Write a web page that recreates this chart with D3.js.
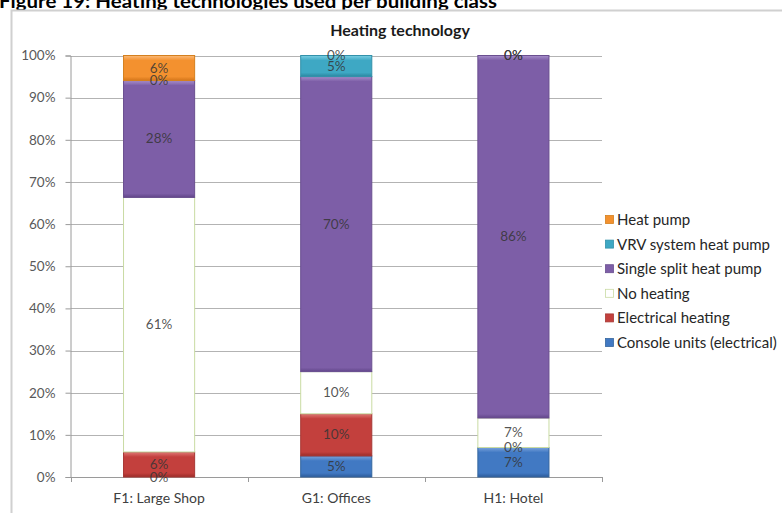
<!DOCTYPE html>
<html>
<head>
<meta charset="utf-8">
<script src="https://cdn.jsdelivr.net/npm/d3@7/dist/d3.min.js"></script>
<style>
  html, body { margin: 0; padding: 0; background: #fff; }
  svg { display: block; }
  text { font-family: Lato, "Open Sans", "Noto Sans", sans-serif; }
</style>
</head>
<body>
<svg id="chart" width="782" height="513"></svg>
<script>
// Building classes on the x axis
const categories = ["F1: Large Shop", "G1: Offices", "H1: Hotel"];

// Share of each heating technology per building class (%), bottom to top of the stack
const seriesNames = ["Console units (electrical)", "Electrical heating", "No heating",
                     "Single split heat pump", "VRV system heat pump", "Heat pump"];
const consoleUnits   = [0, 5, 7];
const electrical     = [6, 10, 0];
const noHeating      = [61, 10, 7];
const singleSplit    = [28, 70, 86];
const vrvSystem      = [0, 5, 0];
const heatPump       = [6, 0, 0];

const yTickLabels = ["0%", "10%", "20%", "30%", "40%", "50%", "60%", "70%", "80%", "90%", "100%"];

const seriesValues = [consoleUnits, electrical, noHeating, singleSplit, vrvSystem, heatPump];

// Fill styles per series: base, top highlight, bottom shade, outline
const palette = {
  "Console units (electrical)": { base: "#4179c3", hi: "#7aa3dc", lo: "#2c5b9a", line: "#36679f" },
  "Electrical heating":         { base: "#c3403d", hi: "#e07a77", lo: "#9a2c29", line: "#a73835" },
  "No heating":                 { base: "#ffffff", hi: "#ffffff", lo: "#ffffff", line: "#c9dba3" },
  "Single split heat pump":     { base: "#7d5ea7", hi: "#a78fcb", lo: "#62468a", line: "#6a4f90" },
  "VRV system heat pump":       { base: "#3ea8c4", hi: "#7bcfe3", lo: "#2a869f", line: "#3391aa" },
  "Heat pump":                  { base: "#f3912f", hi: "#fbbb7a", lo: "#d4761a", line: "#d4801f" }
};

const table = categories.map((c, i) => {
  const row = { category: c };
  seriesNames.forEach((s, j) => { row[s] = seriesValues[j][i]; });
  return row;
});

const svg = d3.select("#chart");

// Page heading above the chart frame
svg.append("text")
  .attr("x", -1).attr("y", 8)
  .attr("font-size", 19).attr("font-weight", "bold").attr("fill", "#000")
  .attr("textLength", 498).attr("lengthAdjust", "spacingAndGlyphs")
  .text("Figure 19: Heating technologies used per building class");

// Chart frame
svg.append("rect")
  .attr("x", 11.5).attr("y", 10.5).attr("width", 800).attr("height", 540)
  .attr("fill", "#fff").attr("stroke", "#d0d0d0").attr("stroke-width", 2);

svg.append("text")
  .attr("x", 400).attr("y", 36)
  .attr("text-anchor", "middle").attr("font-size", 16).attr("font-weight", "bold")
  .attr("fill", "#1a1a1a")
  .text("Heating technology");

const margin = { left: 70.5, right: 602, top: 55.5, bottom: 477 };

const x = d3.scaleBand().domain(categories).range([margin.left, margin.right])
  .paddingInner(0.593).paddingOuter(0.2965);
const xTicks = d3.scaleBand().domain(categories).range([margin.left, margin.right]);
const y = d3.scaleLinear().domain([0, 1]).range([margin.bottom, margin.top]);

// Soft edge gradients used for the bevel strips
const defs = svg.append("defs");
seriesNames.forEach((s, j) => {
  const p = palette[s];
  const top = defs.append("linearGradient").attr("id", "hi" + j)
    .attr("x1", 0).attr("y1", 0).attr("x2", 0).attr("y2", 1);
  top.append("stop").attr("offset", "0%").attr("stop-color", p.hi).attr("stop-opacity", 1);
  top.append("stop").attr("offset", "100%").attr("stop-color", p.hi).attr("stop-opacity", 0);
  const bot = defs.append("linearGradient").attr("id", "lo" + j)
    .attr("x1", 0).attr("y1", 0).attr("x2", 0).attr("y2", 1);
  bot.append("stop").attr("offset", "0%").attr("stop-color", p.lo).attr("stop-opacity", 0);
  bot.append("stop").attr("offset", "100%").attr("stop-color", p.lo).attr("stop-opacity", 1);
});

// Horizontal gridlines
const yTickVals = yTickLabels.map((_, i) => i / 10);
svg.append("g")
  .selectAll("line").data(yTickVals.slice(1)).join("line")
  .attr("x1", margin.left).attr("x2", margin.right)
  .attr("y1", d => Math.round(y(d)) + 0.5).attr("y2", d => Math.round(y(d)) + 0.5)
  .attr("stroke", "#b3b3b3").attr("stroke-width", 1);

// Y axis
const yAxis = d3.axisLeft(y).tickValues(yTickVals)
  .tickFormat((d, i) => yTickLabels[i]).tickSize(5).tickPadding(10);
const gy = svg.append("g").attr("transform", `translate(${margin.left},0)`).call(yAxis);
gy.select(".domain").attr("stroke", "#9a9a9a");
gy.selectAll(".tick line").attr("stroke", "#9a9a9a");
gy.selectAll(".tick text").attr("font-size", 13.5).attr("fill", "#595959")
  .attr("font-family", "Lato, 'Open Sans', sans-serif");

// X axis with ticks at category boundaries
svg.append("line")
  .attr("x1", margin.left).attr("x2", margin.right)
  .attr("y1", margin.bottom + 0.5).attr("y2", margin.bottom + 0.5)
  .attr("stroke", "#9a9a9a");
const bounds = categories.map(c => xTicks(c)).concat([margin.right]);
svg.append("g").selectAll("line").data(bounds).join("line")
  .attr("x1", d => Math.round(d) + 0.5).attr("x2", d => Math.round(d) + 0.5)
  .attr("y1", margin.bottom).attr("y2", margin.bottom + 5)
  .attr("stroke", "#9a9a9a");
svg.append("g").selectAll("text").data(categories).join("text")
  .attr("x", d => x(d) + x.bandwidth() / 2).attr("y", 503)
  .attr("text-anchor", "middle").attr("font-size", 14).attr("fill", "#404040")
  .text(d => d);

// 100% stacked bars
const stack = d3.stack().keys(seriesNames).offset(d3.stackOffsetExpand);
const layers = stack(table);

const barG = svg.append("g");
layers.forEach((layer, j) => {
  const p = palette[seriesNames[j]];
  const segs = barG.append("g")
    .selectAll("g").data(layer.filter(d => d[1] - d[0] > 0)).join("g");
  const bx = d => x(d.data.category) + 0.5;
  const bw = x.bandwidth() - 1;
  const by = d => y(d[1]);
  const bh = d => y(d[0]) - y(d[1]);
  segs.append("rect")
    .attr("x", bx).attr("width", bw).attr("y", by).attr("height", bh)
    .attr("fill", p.base);
  segs.append("rect")
    .attr("x", bx).attr("width", bw).attr("y", by)
    .attr("height", d => Math.min(5, bh(d) / 2))
    .attr("fill", `url(#hi${j})`);
  segs.append("rect")
    .attr("x", bx).attr("width", bw)
    .attr("y", d => by(d) + bh(d) - Math.min(4, bh(d) / 2))
    .attr("height", d => Math.min(4, bh(d) / 2))
    .attr("fill", `url(#lo${j})`);
  segs.append("rect")
    .attr("x", bx).attr("width", bw).attr("y", by).attr("height", bh)
    .attr("fill", "none").attr("stroke", p.line).attr("stroke-width", 1);
});

// Value labels centred in each segment
const labelG = svg.append("g");
layers.forEach((layer, j) => {
  labelG.append("g")
    .selectAll("text").data(layer).join("text")
    .attr("x", d => x(d.data.category) + x.bandwidth() / 2)
    .attr("y", d => y((d[0] + d[1]) / 2) + 4.5)
    .attr("text-anchor", "middle").attr("font-size", 13.5)
    .attr("fill", "#353535").attr("fill-opacity", 0.85)
    .text(d => d.data[seriesNames[j]] + "%");
});

// Legend, top series first
const legendItems = seriesNames.slice().reverse();
const lg = svg.append("g").attr("transform", "translate(605,220)");
legendItems.forEach((s, i) => {
  const row = lg.append("g").attr("transform", `translate(0,${i * 24.6})`);
  const p = palette[s];
  row.append("rect").attr("x", 0.5).attr("y", -4.5).attr("width", 8).attr("height", 8)
    .attr("fill", p.base).attr("stroke", p.line).attr("stroke-width", 0.8);
  row.append("text").attr("x", 12).attr("y", 5)
    .attr("font-size", 15).attr("fill", "#262626")
    .text(s);
});
</script>
</body>
</html>
